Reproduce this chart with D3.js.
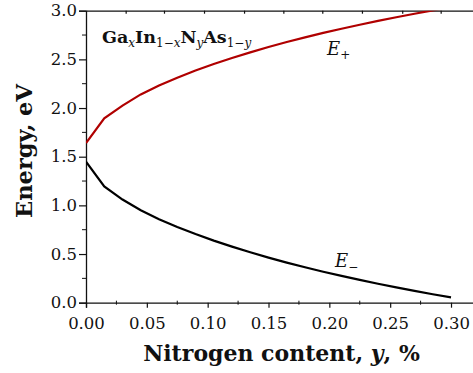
<!DOCTYPE html>
<html>
<head>
<meta charset="utf-8">
<script src="https://cdn.jsdelivr.net/npm/d3@7"></script>
<style>
  body { margin: 0; background: #fff; }
  svg { display: block; }
  text { font-family: "DejaVu Serif", serif; fill: #111; }
</style>
</head>
<body>
<svg id="chart" width="473" height="373"></svg>
<script>
// nitrogen content y (%), sampled every 0.015
var nitrogen = [0, 0.015, 0.03, 0.045, 0.06, 0.075, 0.09, 0.105, 0.12, 0.135, 0.15,
                0.165, 0.18, 0.195, 0.21, 0.225, 0.24, 0.255, 0.27, 0.285, 0.3];
var ePlus = [1.64, 1.895, 2.025, 2.14, 2.232, 2.312, 2.385, 2.452, 2.514, 2.572, 2.627,
             2.678, 2.726, 2.772, 2.815, 2.856, 2.895, 2.933, 2.969, 3.003, 3.035];
var eMinus = [1.45, 1.195, 1.06, 0.95, 0.858, 0.778, 0.705, 0.638, 0.576, 0.518, 0.463,
              0.412, 0.364, 0.318, 0.275, 0.234, 0.195, 0.157, 0.121, 0.087, 0.055];

var xTicks = [0, 0.05, 0.1, 0.15, 0.2, 0.25, 0.3];
var xMinor = [0.025, 0.075, 0.125, 0.175, 0.225, 0.275];
var yTicks = [0, 0.5, 1.0, 1.5, 2.0, 2.5, 3.0];
var yMinor = [0.25, 0.75, 1.25, 1.75, 2.25, 2.75];
var topTicks = [0.0326, 0.0641, 0.097, 0.1299, 0.1622, 0.1942, 0.2268, 0.2599, 0.2915];

var svg = d3.select("#chart");
var padL = 86, padT = 10.7, padB = 302.7;

var x = d3.scaleLinear().domain([0, 0.32]).range([padL, padL + 0.32 * 1216.7]);
var y = d3.scaleLinear().domain([0, 3]).range([padB, padT]);

svg.append("clipPath").attr("id", "plot")
    .append("rect").attr("x", padL).attr("y", padT)
    .attr("width", 473 - padL).attr("height", padB - padT);

// bottom axis
var xAxis = svg.append("g").attr("transform", "translate(0," + padB + ")")
    .call(d3.axisBottom(x).tickValues(xTicks).tickFormat(d3.format(".2f")).tickSizeOuter(0).tickSize(5).tickPadding(10));
xAxis.append("g").selectAll("line").data(xMinor).enter().append("line")
    .attr("x1", function(d) { return x(d); }).attr("x2", function(d) { return x(d); })
    .attr("y1", -2).attr("y2", 2).attr("stroke", "#111");

// left axis
var yAxis = svg.append("g").attr("transform", "translate(" + padL + ",0)")
    .call(d3.axisLeft(y).tickValues(yTicks).tickFormat(d3.format(".1f")).tickSizeOuter(0).tickSize(7).tickPadding(2));
yAxis.append("g").selectAll("line").data(yMinor).enter().append("line")
    .attr("x1", -4).attr("x2", 0)
    .attr("y1", function(d) { return y(d); }).attr("y2", function(d) { return y(d); })
    .attr("stroke", "#111");

// top frame line with its inner ticks
var topAxis = svg.append("g").attr("transform", "translate(0," + padT + ")")
    .call(d3.axisTop(x).tickValues(topTicks).tickFormat("").tickSizeOuter(0).tickSizeInner(-3));

[xAxis, yAxis, topAxis].forEach(function(g) {
    g.select(".domain").attr("stroke", "#111").attr("stroke-width", 1.3);
    g.selectAll(".tick line").attr("stroke", "#111").attr("stroke-width", 1.2);
    g.selectAll(".tick text").style("font-family", "DejaVu Serif, serif")
        .style("font-size", "16.5px").attr("fill", "#111");
});

var line = d3.line()
    .x(function(d) { return x(d[0]); })
    .y(function(d) { return y(d[1]); });

svg.append("path").datum(d3.zip(nitrogen, ePlus))
    .attr("clip-path", "url(#plot)")
    .attr("d", line).attr("fill", "none").attr("stroke", "#b00000").attr("stroke-width", 2.2);

svg.append("path").datum(d3.zip(nitrogen, eMinus))
    .attr("clip-path", "url(#plot)")
    .attr("d", line).attr("fill", "none").attr("stroke", "#000").attr("stroke-width", 2.2);

// axis titles
var xt = svg.append("text").attr("x", 281.5).attr("y", 361)
    .attr("text-anchor", "middle").style("font-size", "22px").style("font-weight", "bold");
xt.append("tspan").text("Nitrogen content, ");
xt.append("tspan").style("font-style", "italic").text("y");
xt.append("tspan").text(", %");

svg.append("text").attr("transform", "translate(32,151) rotate(-90)")
    .attr("text-anchor", "middle").style("font-size", "22.5px").style("font-weight", "bold")
    .text("Energy, eV");

// compound label
var f = svg.append("text").attr("x", 102).attr("y", 43)
    .style("font-size", "17.5px").style("font-weight", "bold");
function part(t, sub, it) {
    var s = f.append("tspan").text(t);
    if (sub) s.attr("baseline-shift", "-30%").style("font-size", "12px").style("font-weight", "normal");
    if (it) s.style("font-style", "italic");
    return s;
}
part("Ga");
part("x", true, true);
part("In");
var s1 = part("1\u2212", true); s1.append("tspan").style("font-style", "italic").text("x");
part("N");
part("y", true, true);
part("As");
var s2 = part("1\u2212", true); s2.append("tspan").style("font-style", "italic").text("y");

// branch labels
var ep = svg.append("text").attr("x", 327).attr("y", 55).style("font-size", "18px").style("font-style", "italic");
ep.append("tspan").text("E");
ep.append("tspan").attr("baseline-shift", "-30%").style("font-size", "12px").style("font-style", "normal").text("+");

var em = svg.append("text").attr("x", 335).attr("y", 267).style("font-size", "18px").style("font-style", "italic");
em.append("tspan").text("E");
em.append("tspan").attr("baseline-shift", "-30%").style("font-size", "12px").style("font-style", "normal").text("\u2212");
</script>
</body>
</html>
